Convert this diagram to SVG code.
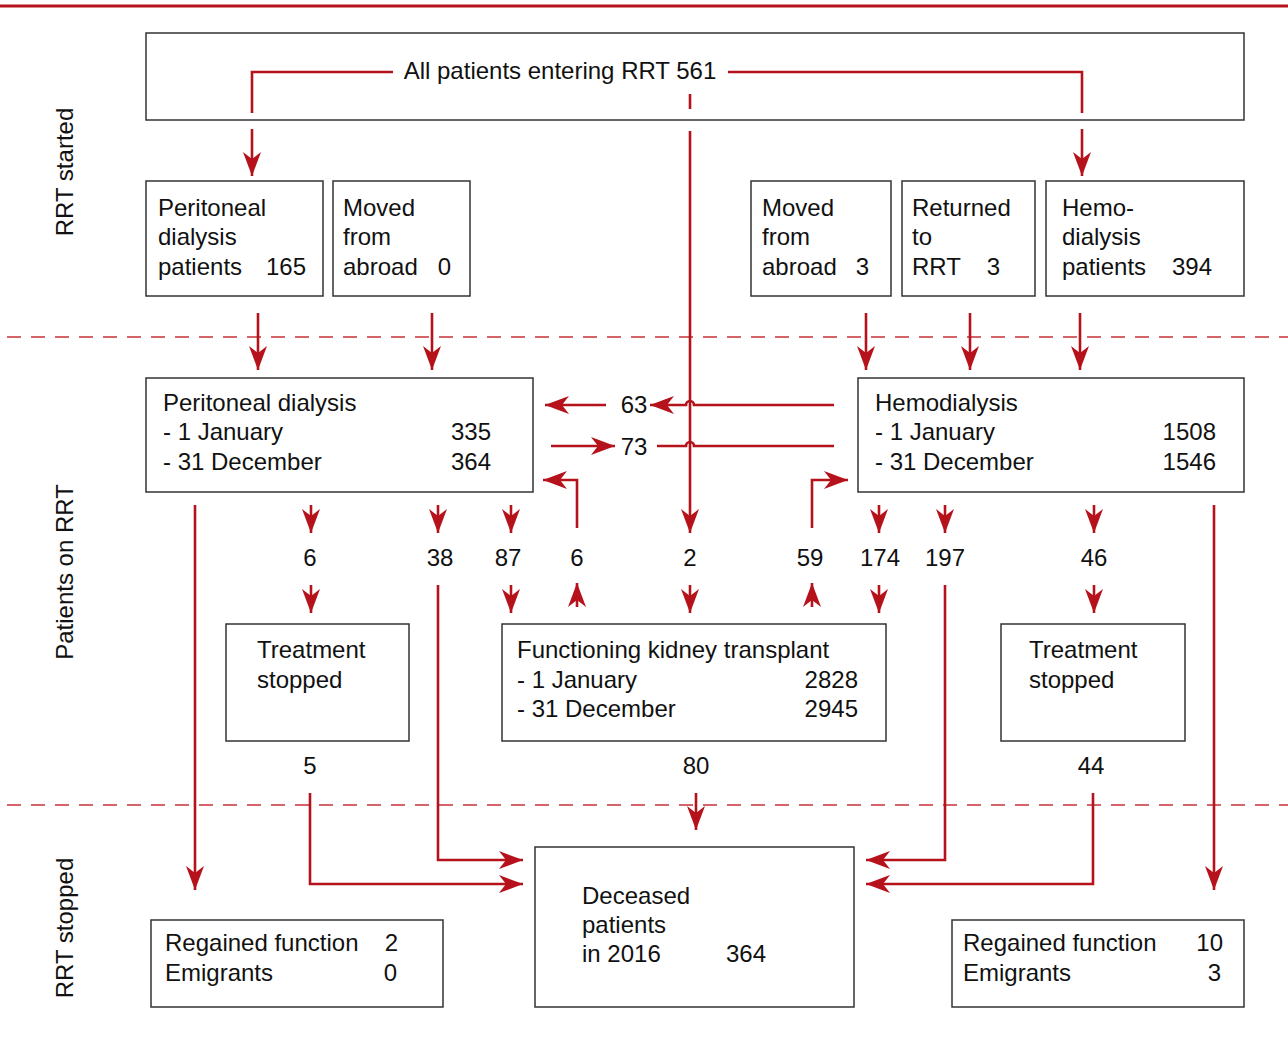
<svg xmlns="http://www.w3.org/2000/svg" width="1288" height="1044" viewBox="0 0 1288 1044">
<defs>
<marker id="ah" viewBox="0 0 24 18" refX="24" refY="9" markerWidth="24" markerHeight="18" markerUnits="userSpaceOnUse" orient="auto">
<path d="M0,0 L24,9 L0,18 L7,9 z" fill="#b5121b"/>
</marker>
<style>
text{font-family:"Liberation Sans",Arial,sans-serif;font-size:24px;fill:#111}
.box{fill:#fff;stroke:#333;stroke-width:1.5}
.ln{fill:none;stroke:#b5121b;stroke-width:2.6}
.ar{fill:none;stroke:#b5121b;stroke-width:2.6;marker-end:url(#ah)}
.dash{fill:none;stroke:#c8323a;stroke-width:1.5;stroke-dasharray:14 10}
.r{text-anchor:end}
.m{text-anchor:middle}
</style>
</defs>
<rect width="1288" height="1044" fill="#fff"/>
<line x1="0" y1="6" x2="1288" y2="6" stroke="#b5121b" stroke-width="3"/>
<line class="dash" x1="7" y1="337" x2="1288" y2="337"/>
<line class="dash" x1="7" y1="805" x2="1288" y2="805"/>

<g id="side-labels">
<text transform="translate(73,172) rotate(-90)" class="m">RRT started</text>
<text transform="translate(73,572) rotate(-90)" class="m">Patients on RRT</text>
<text transform="translate(73,928) rotate(-90)" class="m">RRT stopped</text>
</g>

<g id="all-patients">
<rect class="box" x="146" y="33" width="1098" height="87"/>
<text x="560" y="79" class="m">All patients entering RRT 561</text>
</g>

<g id="pd-patients"><rect class="box" x="146" y="181" width="177" height="115"/>
<text x="158" y="216">Peritoneal</text><text x="158" y="245">dialysis</text><text x="158" y="275">patients</text><text x="306" y="275" class="r">165</text></g>
<g id="moved-abroad-pd"><rect class="box" x="333" y="181" width="137" height="115"/>
<text x="343" y="216">Moved</text><text x="343" y="245">from</text><text x="343" y="275">abroad</text><text x="451" y="275" class="r">0</text></g>
<g id="moved-abroad-hd"><rect class="box" x="751" y="181" width="140" height="115"/>
<text x="762" y="216">Moved</text><text x="762" y="245">from</text><text x="762" y="275">abroad</text><text x="869" y="275" class="r">3</text></g>
<g id="returned"><rect class="box" x="902" y="181" width="133" height="115"/>
<text x="912" y="216">Returned</text><text x="912" y="245">to</text><text x="912" y="275">RRT</text><text x="1000" y="275" class="r">3</text></g>
<g id="hd-patients"><rect class="box" x="1046" y="181" width="198" height="115"/>
<text x="1062" y="216">Hemo-</text><text x="1062" y="245">dialysis</text><text x="1062" y="275">patients</text><text x="1212" y="275" class="r">394</text></g>

<g id="pd"><rect class="box" x="146" y="378" width="387" height="114"/>
<text x="163" y="411">Peritoneal dialysis</text><text x="163" y="440">- 1 January</text><text x="163" y="470">- 31 December</text>
<text x="491" y="440" class="r">335</text><text x="491" y="470" class="r">364</text></g>
<g id="hd"><rect class="box" x="858" y="378" width="386" height="114"/>
<text x="875" y="411">Hemodialysis</text><text x="875" y="440">- 1 January</text><text x="875" y="470">- 31 December</text>
<text x="1216" y="440" class="r">1508</text><text x="1216" y="470" class="r">1546</text></g>

<g id="ts-left"><rect class="box" x="226" y="624" width="183" height="117"/>
<text x="257" y="658">Treatment</text><text x="257" y="688">stopped</text></g>
<g id="transplant"><rect class="box" x="502" y="624" width="384" height="117"/>
<text x="517" y="658">Functioning kidney transplant</text><text x="517" y="688">- 1 January</text><text x="517" y="717">- 31 December</text>
<text x="858" y="688" class="r">2828</text><text x="858" y="717" class="r">2945</text></g>
<g id="ts-right"><rect class="box" x="1001" y="624" width="184" height="117"/>
<text x="1029" y="658">Treatment</text><text x="1029" y="688">stopped</text></g>

<g id="deceased"><rect class="box" x="535" y="847" width="319" height="160"/>
<text x="582" y="904">Deceased</text><text x="582" y="933">patients</text><text x="582" y="962">in 2016</text><text x="766" y="962" class="r">364</text></g>
<g id="regained-left"><rect class="box" x="151" y="920" width="292" height="87"/>
<text x="165" y="951">Regained function</text><text x="165" y="981">Emigrants</text>
<text x="398" y="951" class="r">2</text><text x="397" y="981" class="r">0</text></g>
<g id="regained-right"><rect class="box" x="952" y="920" width="292" height="87"/>
<text x="963" y="951">Regained function</text><text x="963" y="981">Emigrants</text>
<text x="1223" y="951" class="r">10</text><text x="1221" y="981" class="r">3</text></g>

<g id="labels">
<text x="634" y="413" class="m">63</text>
<text x="634" y="455" class="m">73</text>
<text x="310" y="566" class="m">6</text>
<text x="440" y="566" class="m">38</text>
<text x="508" y="566" class="m">87</text>
<text x="577" y="566" class="m">6</text>
<text x="690" y="566" class="m">2</text>
<text x="810" y="566" class="m">59</text>
<text x="880" y="566" class="m">174</text>
<text x="945" y="566" class="m">197</text>
<text x="1094" y="566" class="m">46</text>
<text x="310" y="774" class="m">5</text>
<text x="696" y="774" class="m">80</text>
<text x="1091" y="774" class="m">44</text>
</g>

<g id="connectors">
<path class="ln" d="M393,72 H252 V113"/>
<path class="ar" d="M252,129 V176"/>
<path class="ln" d="M728,72 H1082 V113"/>
<path class="ar" d="M1082,129 V176"/>
<path class="ln" d="M690,94 V109"/>
<path class="ar" d="M690,131 V533"/>
<path class="ar" d="M258,313 V370"/>
<path class="ar" d="M432,313 V370"/>
<path class="ar" d="M866,313 V370"/>
<path class="ar" d="M970,313 V370"/>
<path class="ar" d="M1080,313 V370"/>
<path class="ar" d="M834,405 H694 A4,4 0 0 0 686,405 H650"/>
<path class="ar" d="M606,405 H545"/>
<path class="ar" d="M551,446 H615"/>
<path class="ln" d="M657,446 H686 A4,4 0 0 1 694,446 H834"/>
<path class="ar" d="M577,528 V480 H543"/>
<path class="ar" d="M812,528 V480 H848"/>
<path class="ar" d="M311,505 V533"/>
<path class="ar" d="M438,505 V533"/>
<path class="ar" d="M511,505 V533"/>
<path class="ar" d="M879,505 V533"/>
<path class="ar" d="M945,505 V533"/>
<path class="ar" d="M1094,505 V533"/>
<path class="ar" d="M311,585 V613"/>
<path class="ar" d="M511,585 V613"/>
<path class="ar" d="M577,607 V583"/>
<path class="ar" d="M690,585 V613"/>
<path class="ar" d="M812,607 V583"/>
<path class="ar" d="M879,585 V613"/>
<path class="ar" d="M1094,585 V613"/>
<path class="ar" d="M195,505 V890"/>
<path class="ar" d="M1214,505 V890"/>
<path class="ar" d="M438,585 V860 H523"/>
<path class="ar" d="M310,793 V884 H523"/>
<path class="ar" d="M696,793 V830"/>
<path class="ar" d="M945,585 V860 H866"/>
<path class="ar" d="M1093,793 V884 H866"/>
</g>
</svg>
